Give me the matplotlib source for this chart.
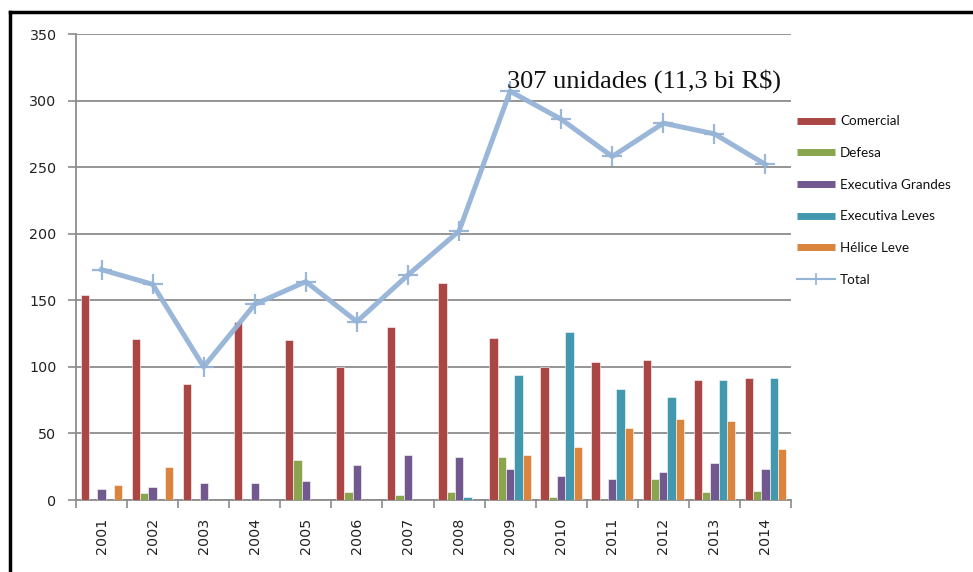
import matplotlib
matplotlib.use("Agg")
import matplotlib.pyplot as plt
import numpy as np
from matplotlib.lines import Line2D

years = ["2001", "2002", "2003", "2004", "2005", "2006", "2007",
         "2008", "2009", "2010", "2011", "2012", "2013", "2014"]
comercial = [154, 121, 87, 134, 120, 100, 130, 163, 122, 100, 104, 105, 90, 92]
defesa = [0, 5, 0, 0, 30, 6, 4, 6, 32, 2, 0, 16, 6, 7]
exec_grandes = [8, 10, 13, 13, 14, 26, 34, 32, 23, 18, 16, 21, 28, 23]
exec_leves = [0, 0, 0, 0, 0, 0, 0, 2, 94, 126, 83, 77, 90, 92]
helice_leve = [11, 25, 0, 0, 0, 0, 0, 0, 34, 40, 54, 61, 59, 38]
total = [173, 162, 100, 147, 164, 134, 169, 202, 307, 286, 258, 283, 275, 252]
series_names = ["Comercial", "Defesa", "Executiva Grandes", "Executiva Leves", "Hélice Leve"]
total_name = "Total"
annotation = "307 unidades (11,3 bi R$)"

colors = ["#AA4643", "#89A54E", "#71588F", "#4198AF", "#DB843D"]
line_color = "#95B3D7"

fig = plt.figure(figsize=(9.73, 5.72), dpi=100)
ax = fig.add_axes([76 / 973, 1 - 500 / 572, (791 - 76) / 973, (500 - 34) / 572])

x = np.arange(len(years))
w = 0.163
all_series = [comercial, defesa, exec_grandes, exec_leves, helice_leve]
for i, (vals, c) in enumerate(zip(all_series, colors)):
    ax.bar(x + (i - 2) * w, vals, width=w, color=c, edgecolor="white",
           linewidth=0.4, zorder=3)

ax.plot(x, total, color=line_color, lw=3.6, marker="+", markersize=14,
        markeredgewidth=1.6, zorder=4, alpha=0.95)

ax.text(7.93, 309.5, annotation, family="Liberation Serif", fontsize=19,
        va="baseline", ha="left", color="#111", zorder=5)

ax.set_xlim(-0.5, len(years) - 0.5)
ax.set_ylim(0, 350)
ax.set_yticks(np.arange(0, 351, 50))
ax.yaxis.grid(True, color="#8c8c8c", lw=1.3, zorder=0)
ax.set_axisbelow(True)

ax.set_xticks(x)
ax.set_xticklabels(years, rotation=90, va="top")
ax.set_xticks(np.arange(-0.5, len(years), 1), minor=True)
ax.tick_params(axis="x", which="major", length=0, pad=13, labelsize=10.3,
               labelcolor="#222")
ax.tick_params(axis="x", which="minor", length=6, width=1.2, color="#8c8c8c",
               direction="out")
ax.tick_params(axis="y", length=6, width=1.2, color="#8c8c8c", pad=8,
               labelsize=10.3, labelcolor="#222")

for s in ["top", "right"]:
    ax.spines[s].set_visible(False)
for s in ["left", "bottom"]:
    ax.spines[s].set_color("#8c8c8c")
    ax.spines[s].set_linewidth(1.3)

handles = [Line2D([0], [0], color=c, lw=5, solid_capstyle="butt") for c in colors]
handles.append(Line2D([0], [0], color=line_color, lw=1.5, marker="+",
                      markersize=8, markeredgewidth=1.2))
leg = fig.legend(handles, series_names + [total_name], loc="center left",
                 bbox_to_anchor=(797 / 973, 1 - 200.5 / 572), frameon=False,
                 prop={"family": "Lato", "size": 9.7}, handlelength=2.8,
                 handletextpad=0.4, labelspacing=1.46, borderpad=0,
                 borderaxespad=0)
for t in leg.get_texts():
    t.set_color("#111")

# outer frame (top and left black borders)
fig.add_artist(Line2D([10 / 973, 1], [1 - 12 / 572, 1 - 12 / 572],
                      transform=fig.transFigure, color="black", lw=2.5))
fig.add_artist(Line2D([10 / 973, 10 / 973], [0, 1 - 12 / 572],
                      transform=fig.transFigure, color="black", lw=2.5))

fig.savefig("out.png", dpi=100)
